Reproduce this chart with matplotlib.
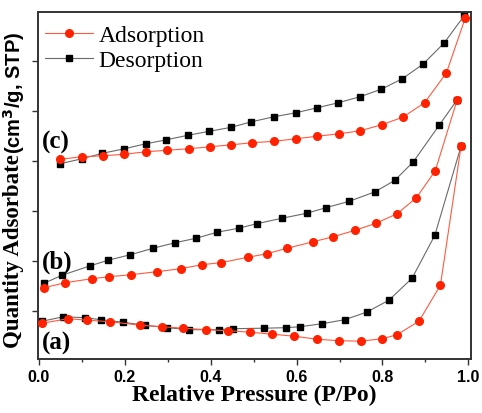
import numpy as np
import matplotlib.pyplot as plt
import matplotlib.ticker as ticker

# Изотермы адсорбции/десорбции N2 для трёх образцов (a), (b), (c)
# Кривые сдвинуты по вертикали, поэтому ось Y без подписей делений
p_ads_a = [0.008, 0.068, 0.113, 0.166, 0.235, 0.286, 0.336, 0.389, 0.441, 0.491,
           0.543, 0.594, 0.647, 0.698, 0.749, 0.800, 0.834, 0.885, 0.935, 0.983]
q_ads_a = [0.76, 0.85, 0.82, 0.79, 0.72, 0.69, 0.66, 0.63, 0.61, 0.58,
           0.54, 0.50, 0.44, 0.41, 0.40, 0.45, 0.53, 0.80, 1.52, 4.30]
p_des_a = [0.008, 0.057, 0.107, 0.144, 0.195, 0.246, 0.298, 0.350, 0.420, 0.453,
           0.524, 0.575, 0.609, 0.660, 0.712, 0.763, 0.815, 0.869, 0.922, 0.983]
q_des_a = [0.80, 0.89, 0.87, 0.83, 0.78, 0.72, 0.67, 0.63, 0.63, 0.65,
           0.66, 0.67, 0.69, 0.75, 0.83, 0.98, 1.22, 1.66, 2.52, 4.30]

p_ads_b = [0.012, 0.061, 0.123, 0.164, 0.215, 0.274, 0.330, 0.379, 0.423, 0.487,
           0.531, 0.578, 0.639, 0.685, 0.737, 0.785, 0.834, 0.879, 0.923, 0.974]
q_ads_b = [1.47, 1.57, 1.65, 1.69, 1.73, 1.79, 1.85, 1.93, 1.97, 2.08,
           2.15, 2.26, 2.39, 2.49, 2.62, 2.76, 2.95, 3.27, 3.81, 5.23]
p_des_b = [0.012, 0.054, 0.120, 0.161, 0.213, 0.266, 0.317, 0.366, 0.415, 0.465,
           0.507, 0.566, 0.624, 0.668, 0.723, 0.783, 0.829, 0.872, 0.932, 0.974]
q_des_b = [1.56, 1.72, 1.91, 2.02, 2.13, 2.26, 2.37, 2.46, 2.58, 2.66,
           2.75, 2.86, 2.96, 3.07, 3.20, 3.39, 3.62, 3.99, 4.72, 5.23]

p_ads_c = [0.049, 0.100, 0.150, 0.199, 0.249, 0.298, 0.349, 0.399, 0.448, 0.496,
           0.548, 0.598, 0.647, 0.699, 0.748, 0.798, 0.847, 0.898, 0.949, 0.993]
q_ads_c = [4.04, 4.09, 4.11, 4.14, 4.19, 4.22, 4.25, 4.29, 4.33, 4.37,
           4.40, 4.45, 4.50, 4.55, 4.61, 4.73, 4.88, 5.17, 5.77, 6.87]
p_des_c = [0.049, 0.100, 0.148, 0.199, 0.249, 0.297, 0.347, 0.397, 0.448, 0.495,
           0.547, 0.598, 0.648, 0.697, 0.747, 0.797, 0.846, 0.894, 0.944, 0.991]
q_des_c = [3.95, 4.05, 4.16, 4.25, 4.35, 4.43, 4.52, 4.60, 4.68, 4.79,
           4.89, 4.97, 5.07, 5.17, 5.29, 5.44, 5.65, 5.94, 6.37, 6.92]

curves = [("(a)", p_ads_a, q_ads_a, p_des_a, q_des_a),
          ("(b)", p_ads_b, q_ads_b, p_des_b, q_des_b),
          ("(c)", p_ads_c, q_ads_c, p_des_c, q_des_c)]
label_y = {"(a)": 0.37, "(b)": 2.0, "(c)": 4.40}

serif = "Liberation Serif"
sans = "Liberation Sans"

fig = plt.figure(figsize=(4.82, 4.14), dpi=100)
ax = fig.add_axes([0.079, 0.130, 0.898, 0.839])

for i, (name, pa, qa, pd, qd) in enumerate(curves):
    ax.plot(pd, qd, color="#6a6a6a", lw=0.8, marker="s", ms=5,
            mfc="black", mec="black", label="Desorption" if i == 0 else None, zorder=2)
    ax.plot(pa, qa, color="#ff5a40", lw=0.8, marker="o", ms=5.5,
            mfc="#ff2200", mec="#ff2200", label="Adsorption" if i == 0 else None, zorder=3)
    ax.text(0.006, label_y[name], name, fontfamily=serif, fontweight="bold",
            fontsize=18, ha="left", va="center", zorder=4)

ax.set_xlim(-0.002, 1.006)
ax.set_ylim(0.04, 6.99)
ax.xaxis.set_major_locator(ticker.MultipleLocator(0.2))
ax.xaxis.set_minor_locator(ticker.MultipleLocator(0.1))
ax.yaxis.set_major_locator(ticker.MultipleLocator(1))
ax.set_yticklabels([])
ax.tick_params(axis="both", which="major", direction="out", length=4, width=1,
               color="#333333", pad=3)
ax.tick_params(axis="x", which="minor", direction="out", length=2.5, width=1, color="#333333")
for lbl in ax.get_xticklabels():
    lbl.set_fontfamily(sans)
    lbl.set_fontweight("bold")
    lbl.set_fontsize(11.5)
for sp in ax.spines.values():
    sp.set_linewidth(1.4)
    sp.set_color("#333333")

ax.set_xlabel("Relative Pressure (P/Po)", fontfamily=serif, fontweight="bold",
              fontsize=17, labelpad=0)

# подпись оси Y: название антиквой, единицы — гротеском, вторая часть встык к первой
t1 = fig.text(0.029, 0.159, "Quantity Adsorbate", rotation=90, fontfamily=serif,
              fontweight="bold", fontsize=16.5, ha="center", va="bottom")
fig.canvas.draw()
bb = t1.get_window_extent(fig.canvas.get_renderer()).transformed(fig.transFigure.inverted())
fig.text(0.029, bb.y1, "(cm$^\\mathbf{3}$/g, STP)", rotation=90, fontfamily=sans,
         fontweight="bold", fontsize=14.5, ha="center", va="bottom")

handles, labels = ax.get_legend_handles_labels()
ax.legend(handles[::-1], labels[::-1], loc="upper left", frameon=False,
          prop={"family": serif, "size": 17}, handlelength=2.0,
          handletextpad=0.25, labelspacing=0.15, borderaxespad=0.0,
          bbox_to_anchor=(-0.005, 0.99))

fig.savefig("out.png", dpi=100)
